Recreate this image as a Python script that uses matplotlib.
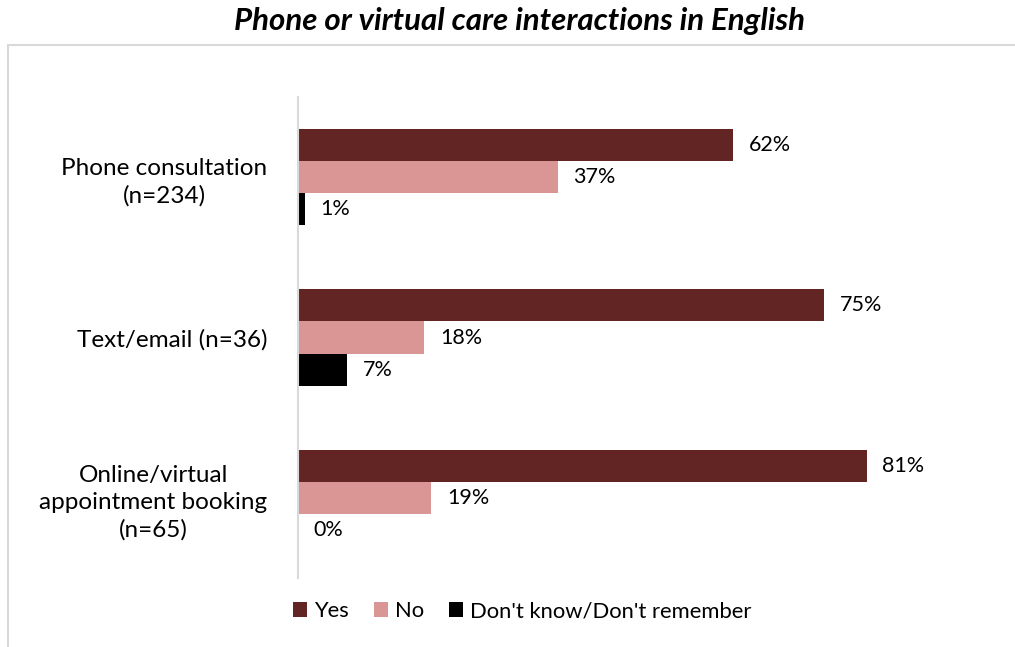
import matplotlib.pyplot as plt
import numpy as np
from matplotlib.patches import Rectangle

categories = ["Phone consultation\n(n=234)", "Text/email (n=36)", "Online/virtual\nappointment booking\n(n=65)"]
series_names = ["Yes", "No", "Don't know/Don't remember"]
yes = [62, 75, 81]
no = [37, 18, 19]
dk = [1, 7, 0]
colors = ["#632523", "#DA9694", "#000000"]

plt.rcParams['font.family'] = ['Lato', 'DejaVu Sans']

fig = plt.figure(figsize=(10.15, 6.47), dpi=100)
ax = fig.add_axes([298/1015, 1-578/647, (1000-298)/1015, (578-97)/647])

fig.patches.append(Rectangle((8/1015, -0.1), 1.1, 1-45/647+0.1, transform=fig.transFigure,
                             fill=False, edgecolor="#D9D9D9", linewidth=1.5))

y = np.arange(len(categories))
h = 0.2
for i, (vals, name, c) in enumerate(zip([yes, no, dk], series_names, colors)):
    pos = y + (i - 1) * h
    ax.barh(pos, vals, height=h, color=c, label=name)
    for p, v in zip(pos, vals):
        ax.text(v + 2.2, p, f"{v}%", va='center', ha='left', fontsize=15.5, color='#000000')

ax.set_xlim(0, 100)
ax.set_ylim(2.5, -0.5)
ax.set_yticks(y)
ax.set_yticklabels(categories, fontsize=17.5, ha='right', multialignment='center', linespacing=1.35)
ax.tick_params(axis='y', length=0, pad=22)
ax.set_xticks([])
for s in ['top', 'right', 'bottom']:
    ax.spines[s].set_visible(False)
ax.spines['left'].set_color('#D9D9D9')
ax.spines['left'].set_linewidth(1.5)

fig.text(520/1015, 1-21/647, "Phone or virtual care interactions in English", ha='center', va='center',
         fontsize=22.5, fontweight='bold', fontstyle='italic')

leg = fig.legend(loc='center', bbox_to_anchor=(522/1015, 1-611/647), ncol=3, frameon=False,
                 fontsize=15.8, handlelength=0.65, handleheight=0.65, handletextpad=0.3, columnspacing=1.15)

fig.savefig("out.png", dpi=100)
